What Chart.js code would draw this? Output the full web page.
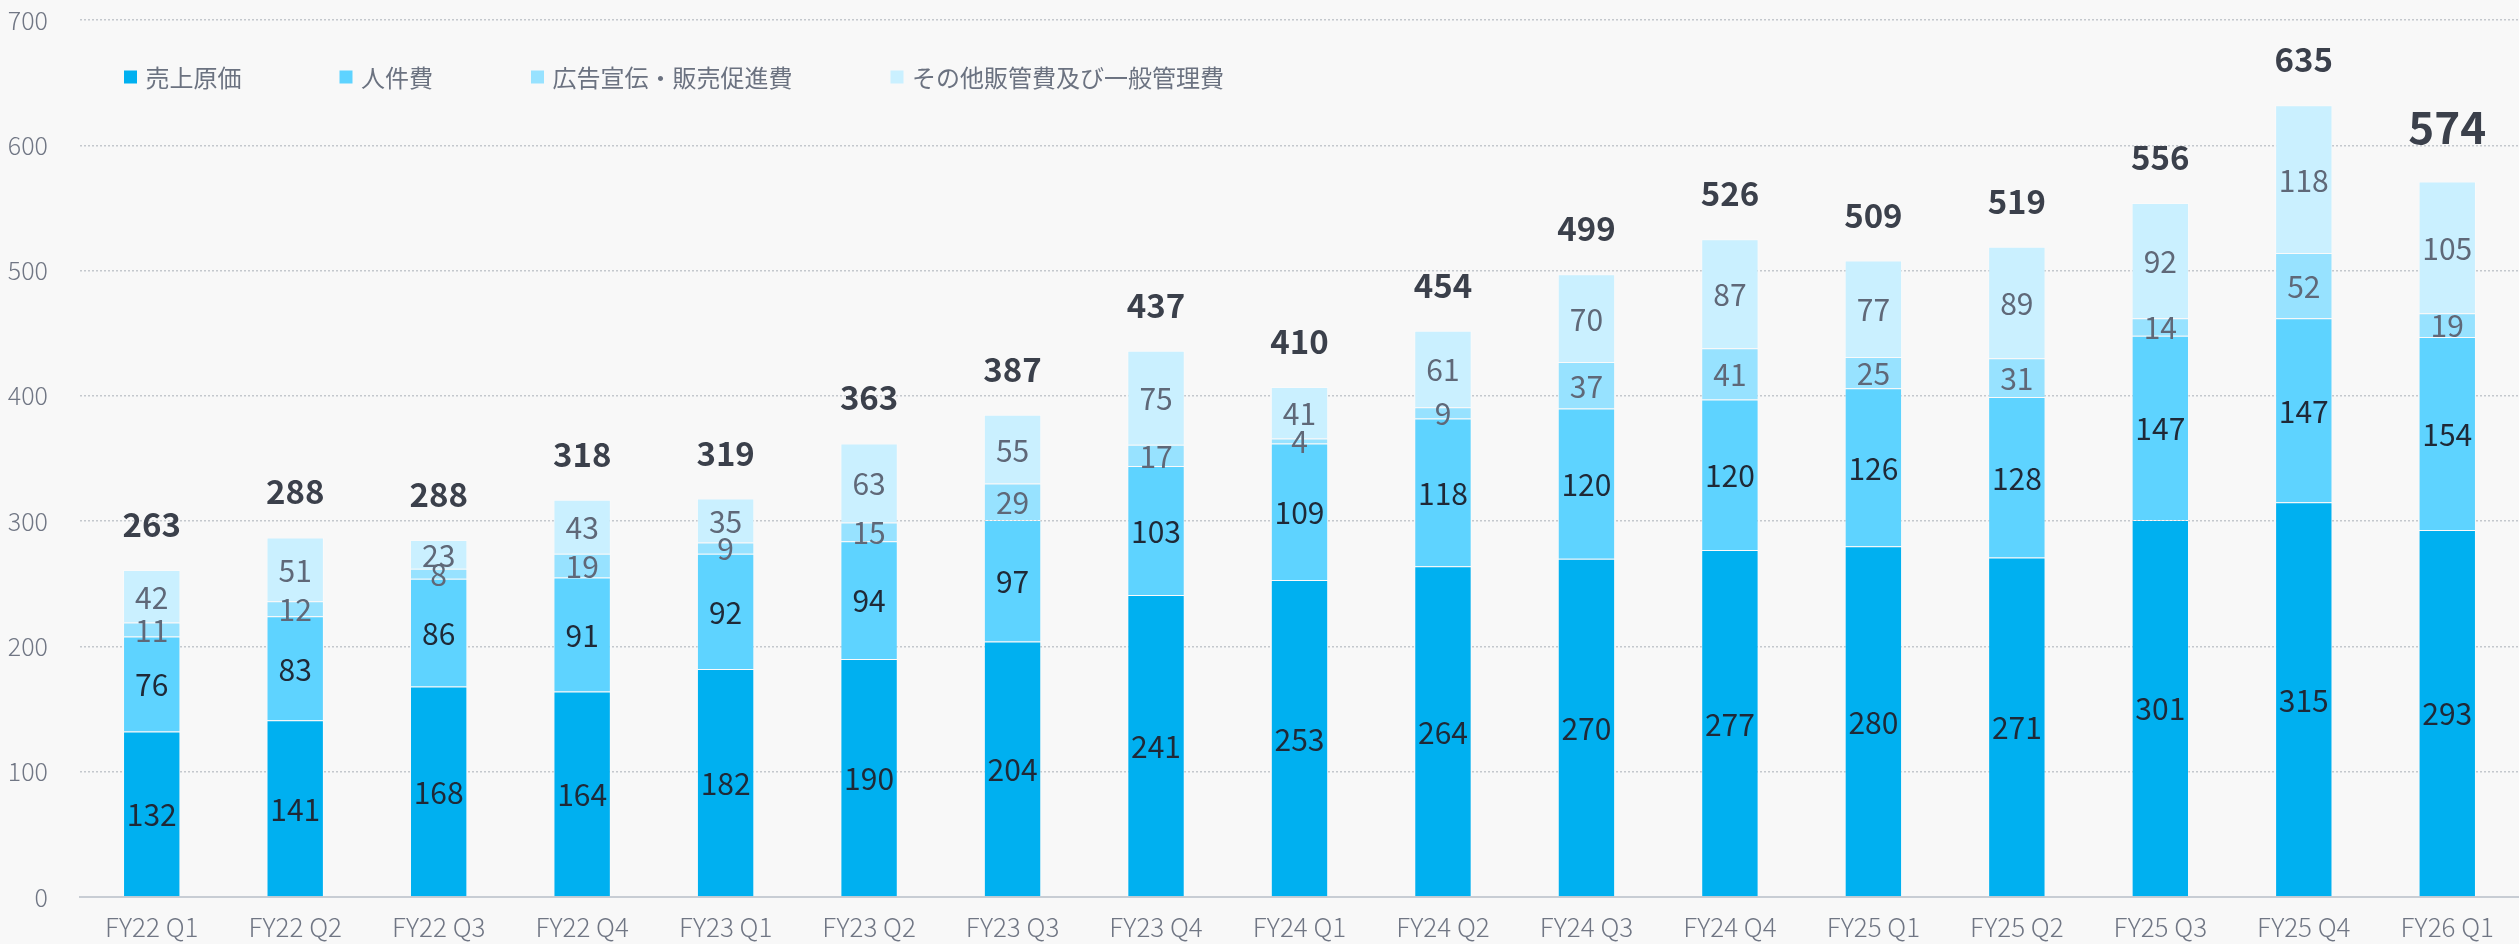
<!DOCTYPE html>
<html>
<head>
<meta charset="utf-8">
<script src="https://cdn.jsdelivr.net/npm/chart.js@4/dist/chart.umd.min.js"></script>
<style>
  html, body { margin: 0; padding: 0; background: #f8f8f8; }
  #wrap { width: 2519px; height: 944px; position: relative; }
</style>
</head>
<body>
<div id="wrap"><canvas id="c" width="2519" height="944"></canvas></div>
<script>
const categories = ['FY22 Q1','FY22 Q2','FY22 Q3','FY22 Q4','FY23 Q1','FY23 Q2','FY23 Q3','FY23 Q4','FY24 Q1','FY24 Q2','FY24 Q3','FY24 Q4','FY25 Q1','FY25 Q2','FY25 Q3','FY25 Q4','FY26 Q1'];
const costOfSales = [132,141,168,164,182,190,204,241,253,264,270,277,280,271,301,315,293];
const personnel   = [76,83,86,91,92,94,97,103,109,118,120,120,126,128,147,147,154];
const advertising = [11,12,8,19,9,15,29,17,4,9,37,41,25,31,14,52,19];
const otherSGA    = [42,51,23,43,35,63,55,75,41,61,70,87,77,89,92,118,105];
const totals      = [263,288,288,318,319,363,387,437,410,454,499,526,509,519,556,635,574];
const seriesNames = ['売上原価','人件費','広告宣伝・販売促進費','その他販管費及び一般管理費'];
const yTicks = [0,100,200,300,400,500,600,700];

const FONT = '"Noto Sans CJK JP", "Noto Sans", sans-serif';
const colors = ['#00B0F0','#5ED3FF','#97E2FF','#CAF0FF'];
const labelColors = ['#1f2937','#1f2937','#5f6878','#5f6878'];

const segLabels = {
  id: 'segLabels',
  afterDatasetsDraw(chart) {
    const ctx = chart.ctx;
    ctx.save();
    ctx.textAlign = 'center';
    ctx.textBaseline = 'middle';
    ctx.font = '30px ' + FONT;
    chart.data.datasets.forEach((ds, i) => {
      const meta = chart.getDatasetMeta(i);
      ctx.fillStyle = labelColors[i];
      meta.data.forEach((el, j) => {
        const y = (el.y + el.base) / 2;
        ctx.fillText(String(ds.data[j]), el.x, y + 1);
      });
    });
    const last = chart.getDatasetMeta(chart.data.datasets.length - 1);
    ctx.fillStyle = '#3b404b';
    ctx.textBaseline = 'alphabetic';
    last.data.forEach((el, j) => {
      const isLast = j === last.data.length - 1;
      ctx.font = 'bold ' + (isLast ? 44 : 33) + 'px ' + FONT;
      ctx.fillText(String(totals[j]), el.x, el.y - (isLast ? 38 : 33));
    });
    ctx.restore();
  }
};

const customLegend = {
  id: 'customLegend',
  afterDraw(chart) {
    const ctx = chart.ctx;
    ctx.save();
    ctx.font = '24px ' + FONT;
    ctx.textBaseline = 'middle';
    ctx.textAlign = 'left';
    let x = 124;
    const cy = 77;
    chart.data.datasets.forEach((ds, i) => {
      ctx.fillStyle = ds.backgroundColor;
      ctx.fillRect(x, cy - 6.5, 13, 13);
      ctx.fillStyle = '#6b7280';
      const tx = x + 21.5;
      ctx.fillText(ds.label, tx, cy + 1);
      x = tx + ctx.measureText(ds.label).width + 98;
    });
    ctx.restore();
  }
};

const bg = {
  id: 'bg',
  beforeDraw(chart) {
    const ctx = chart.ctx;
    ctx.save();
    ctx.fillStyle = '#f8f8f8';
    ctx.fillRect(0, 0, chart.width, chart.height);
    ctx.restore();
  }
};

const seriesData = [costOfSales, personnel, advertising, otherSGA];

new Chart(document.getElementById('c'), {
  type: 'bar',
  data: {
    labels: categories,
    datasets: seriesData.map((d, i) => ({
      label: seriesNames[i],
      data: d,
      backgroundColor: colors[i],
      borderColor: 'rgba(255,255,255,0.35)',
      borderWidth: 1,
      barPercentage: 0.4,
      categoryPercentage: 1.0
    }))
  },
  options: {
    responsive: false,
    animation: false,
    devicePixelRatio: 1,
    layout: { padding: { top: 20, right: 0, bottom: 0, left: 0 } },
    plugins: {
      legend: { display: false },
      title: { display: false },
      tooltip: { enabled: false }
    },
    scales: {
      x: {
        stacked: true,
        grid: { display: false, drawTicks: false },
        border: { display: true, color: '#c8cdd4', width: 2 },
        ticks: { color: '#707684', font: { family: FONT, size: 26, weight: '300' }, padding: 15, maxRotation: 0, autoSkip: false },
        afterFit(scale) { scale.height = 47; scale.paddingLeft = 0; scale.paddingRight = 0; }
      },
      y: {
        stacked: true,
        min: 0,
        max: 700,
        afterBuildTicks(scale) { scale.ticks = yTicks.map(v => ({ value: v })); },
        grid: { color: '#c4c8cd', lineWidth: 1.5, drawTicks: false },
        border: { display: false, dash: [2, 2] },
        ticks: { color: '#707684', font: { family: FONT, size: 25, weight: '300' }, padding: 32 },
        afterFit(scale) { scale.width = 80; scale.paddingTop = 0; scale.paddingBottom = 0; }
      }
    }
  },
  plugins: [bg, segLabels, customLegend]
});
</script>
</body>
</html>
